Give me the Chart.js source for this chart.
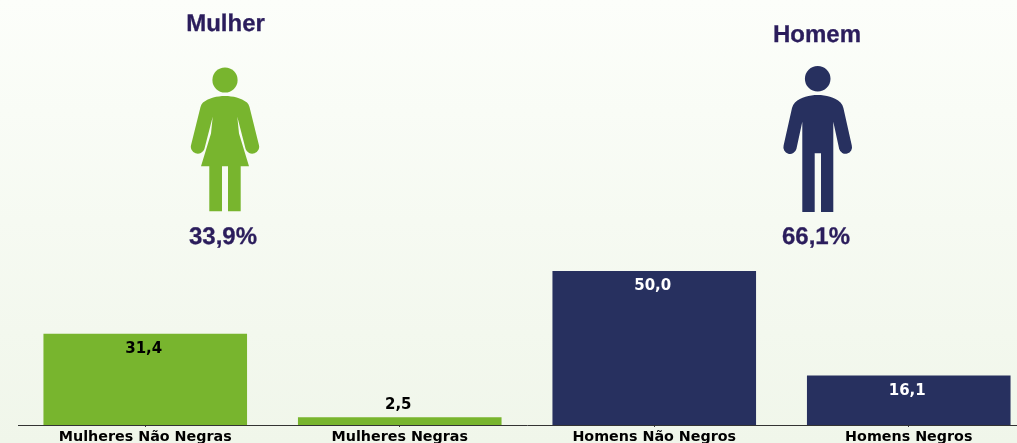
<!DOCTYPE html>
<html lang="pt">
<head>
<meta charset="utf-8">
<title>Mulher / Homem</title>
<script src="https://cdn.jsdelivr.net/npm/chart.js@4"></script>
<style>
  html, body { margin: 0; padding: 0; }
  body {
    width: 1017px; height: 443px; overflow: hidden; position: relative;
    background: linear-gradient(180deg, #fcfefa 0%, #f0f6ea 100%);
  }
  #wrap { position: absolute; left: 0; top: 0; width: 1036px; height: 443px; }
  #icons { position: absolute; left: 0; top: 0; }
  .big {
    position: absolute; width: 200px; margin-left: -100px; text-align: center;
    font: bold 24px/28px "Liberation Sans", Arial, sans-serif; color: #2b1d5c;
    text-rendering: geometricPrecision;
    -webkit-text-stroke: 0.3px #2b1d5c;
  }
</style>
</head>
<body>
<div id="wrap"><canvas id="chart" width="1036" height="443"></canvas></div>

<svg id="icons" width="1017" height="443" viewBox="0 0 1017 443">
  <g fill="#78b52e">
    <circle cx="225" cy="80" r="12.600"/>
    <path d="M203 102.500 C209 98 217 96 225 96 C233 96 241 98 247 102.500 Q248.800 104 249.500 107 L258.800 144.500 A6.900 6.900 0 0 1 245.600 149 L237.300 116.700 L239 133.500 L249 166.300 L240.700 166.300 L240.700 211.300 L228 211.300 L228 166.300 L222 166.300 L222 211.300 L209.300 211.300 L209.300 166.300 L201 166.300 L211 133.500 L212.700 116.700 L204.400 149 A6.900 6.900 0 0 1 191.200 144.500 L200.500 107 Q201.200 104 203 102.500 Z"/>
  </g>
  <g fill="#27305f">
    <circle cx="817.700" cy="78.700" r="12.800"/>
    <path d="M795 102.500 C801 97 809.500 95 817.700 95 C826 95 834.500 97 840.500 102.500 Q842.500 104.500 843.400 108 L851.800 145.500 A6.500 6.500 0 0 1 839.200 149 L833.300 121.700 L833.300 212 L821 212 L821 153.300 L814.700 153.300 L814.700 212 L802.300 212 L802.300 121.700 L796.400 149 A6.500 6.500 0 0 1 783.600 145.500 L792 108 Q793 104.500 795 102.500 Z"/>
  </g>
</svg>

<div class="big" style="left:225.500px; top:10px">Mulher</div>
<div class="big" style="left:817px; top:21px">Homem</div>
<div class="big" style="left:223px; top:223px">33,9%</div>
<div class="big" style="left:816px; top:223px">66,1%</div>

<script>
const categories = ['Mulheres Não Negras', 'Mulheres Negras', 'Homens Não Negros', 'Homens Negros'];
// altura: a primeira barra é mais baixa do que o rótulo indica
const barHeights = [29.6, 2.5, 50.0, 16.1];
const valueTexts = ['31,4', '2,5', '50,0', '16,1'];
const barColors  = ['#78b52e', '#78b52e', '#27305f', '#27305f'];
const textColors = ['#000000', '#000000', '#ffffff', '#ffffff'];

const FONT = "'DejaVu Sans', sans-serif";

// rótulos de valor: dentro da barra, ou acima quando a barra é baixa demais
const valueLabels = {
  id: 'valueLabels',
  afterDatasetsDraw(chart) {
    const { ctx } = chart;
    ctx.save();
    ctx.font = `bold 15px ${FONT}`;
    ctx.textAlign = 'center';
    ctx.textBaseline = 'middle';
    chart.getDatasetMeta(0).data.forEach((bar, i) => {
      const y = barHeights[i] < 5 ? bar.y - 12.500 : bar.y + 15.500;
      ctx.fillStyle = textColors[i];
      ctx.fillText(valueTexts[i], bar.x - 1.500, y);
    });
    ctx.restore();
  },
};

new Chart(document.getElementById('chart'), {
  type: 'bar',
  data: {
    labels: categories,
    datasets: [{ data: barHeights, backgroundColor: barColors, barPercentage: 0.8, categoryPercentage: 1 }],
  },
  options: {
    responsive: false,
    animation: false,
    layout: { padding: { left: 18, right: 0, top: 117, bottom: 0 } },
    plugins: { legend: { display: false }, tooltip: { enabled: false } },
    scales: {
      x: {
        afterFit: (scale) => { scale.height = 18; },
        grid: { offset: false, drawOnChartArea: false, drawTicks: true, tickLength: 2, color: '#333333' },
        border: { color: '#333333', width: 1 },
        ticks: { color: '#000000', font: { family: FONT, weight: 'bold', size: 14.300 }, padding: 2, maxRotation: 0 },
      },
      y: { display: false, min: 0, max: 100 },
    },
  },
  plugins: [valueLabels],
});
</script>
</body>
</html>
